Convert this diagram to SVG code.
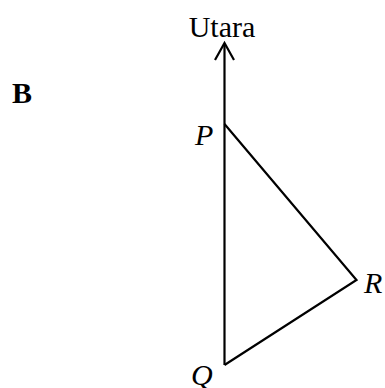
<svg xmlns="http://www.w3.org/2000/svg" width="385" height="388" viewBox="0 0 385 388">
<style>
text{font-family:"Liberation Serif","Times New Roman",serif;font-size:30px;fill:#000}
.i{font-style:italic}
.ln{stroke:#000;stroke-width:2.2;fill:none;stroke-linejoin:miter}
</style>
<rect width="385" height="388" fill="#fff"/>
<g id="connectors">
<line class="ln" x1="224.5" y1="44" x2="224.5" y2="365"/>
<polyline class="ln" points="215,60 224.5,43 234,60"/>
<polyline class="ln" points="224.5,124 356.5,280 224.5,365"/>
</g>
<g id="north"><text x="222" y="37" text-anchor="middle">Utara</text></g>
<g id="label-B"><text x="12" y="103" font-weight="bold" font-size="28">B</text></g>
<g id="P"><text class="i" x="195" y="145">P</text></g>
<g id="R"><text class="i" x="364" y="293">R</text></g>
<g id="Q"><text class="i" x="191" y="385">Q</text></g>
</svg>
